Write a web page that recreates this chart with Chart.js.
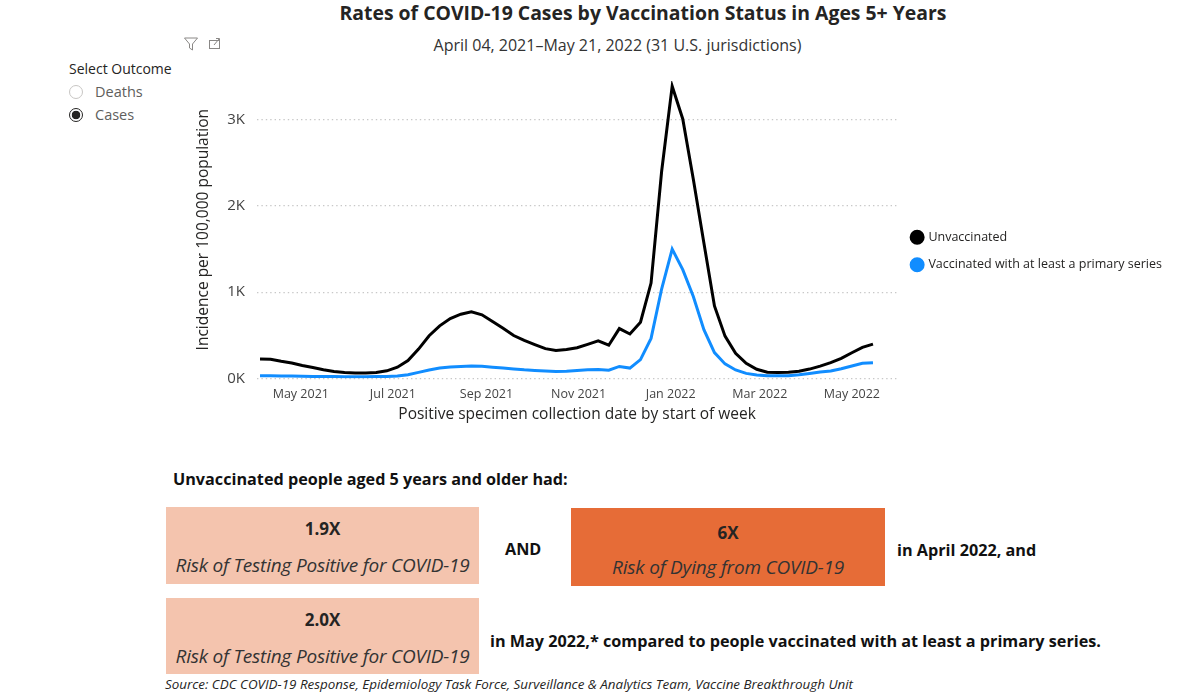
<!DOCTYPE html>
<html>
<head>
<meta charset="utf-8">
<script src="https://cdn.jsdelivr.net/npm/chart.js@4.4.1/dist/chart.umd.min.js"></script>
<style>
  body { margin: 0; width: 1200px; height: 698px; background: #fff; font-family: "Open Sans", sans-serif; color: #252423; position: relative; overflow: hidden; }
  .abs { position: absolute; white-space: nowrap; }
  #title { left: 0; width: 1286px; top: -1px; text-align: center; font-weight: 700; font-size: 19.4px; }
  #subtitle { left: 0; width: 1235px; top: 34px; text-align: center; font-size: 16px; color: #333; }
  #chartBox { left: 190px; top: 60px; width: 982px; height: 370px; }
  .radio { width: 14px; height: 14px; border-radius: 50%; border: 1px solid #c8c6c4; box-sizing: border-box; display: inline-block; }
  .radio.on { border: 1px solid #252423; background: radial-gradient(circle, #252423 0 4px, #fff 4.6px); }
  .box { background: #f4c4ae; text-align: center; }
  .box .big { font-weight: 700; font-size: 17px; position: absolute; left: 0; right: 0; color: #252423; }
  .box .lbl { font-style: italic; font-size: 19px; font-weight: 400; position: absolute; left: 0; right: 0; color: #333; letter-spacing: -0.2px; }
  .bold { font-weight: 700; font-size: 16.2px; color: #111; }
</style>
</head>
<body>
<div id="title" class="abs">Rates of COVID-19 Cases by Vaccination Status in Ages 5+ Years</div>
<div id="subtitle" class="abs">April 04, 2021–May 21, 2022 (31 U.S. jurisdictions)</div>

<svg class="abs" style="left:183px;top:36px" width="48" height="16" viewBox="0 0 48 16">
  <path d="M1.5 2 H14.5 L9.5 8 V14 L6.5 12 V8 Z" fill="none" stroke="#8a8886" stroke-width="1"/>
  <rect x="26.5" y="4.5" width="10" height="8" fill="none" stroke="#8a8886" stroke-width="1"/>
  <path d="M31 9 L36 3 M33 2.5 H36.5 V6" fill="none" stroke="#8a8886" stroke-width="1"/>
</svg>

<div class="abs" style="left:69px;top:59px;font-size:14px;">Select Outcome</div>
<div class="abs" style="left:69px;top:82px;font-size:14.5px;color:#605e5c;"><span class="radio" style="vertical-align:-2px;margin-right:12px"></span>Deaths</div>
<div class="abs" style="left:69px;top:105px;font-size:14.5px;color:#605e5c;"><span class="radio on" style="vertical-align:-2px;margin-right:12px"></span>Cases</div>

<div id="chartBox" class="abs"><canvas id="casesChart"></canvas></div>

<div class="abs bold" style="left:173px;top:468px;">Unvaccinated people aged 5 years and older had:</div>

<div class="abs box" style="left:166px;top:507px;width:313px;height:77px;">
  <div class="big" style="top:10px;">1.9X</div>
  <div class="lbl" style="top:45px;">Risk of Testing Positive for COVID-19</div>
</div>
<div class="abs bold" style="left:505px;top:538px;">AND</div>
<div class="abs box" style="left:571px;top:508px;width:314px;height:78px;background:#e66c37;">
  <div class="big" style="top:13px;">6X</div>
  <div class="lbl" style="top:46px;">Risk of Dying from COVID-19</div>
</div>
<div class="abs bold" style="left:897px;top:539px;">in April 2022, and</div>

<div class="abs box" style="left:166px;top:598px;width:313px;height:76px;">
  <div class="big" style="top:10px;">2.0X</div>
  <div class="lbl" style="top:45px;">Risk of Testing Positive for COVID-19</div>
</div>
<div class="abs bold" style="left:490px;top:630px;">in May 2022,* compared to people vaccinated with at least a primary series.</div>

<div class="abs" style="left:165px;top:675px;font-size:13.4px;font-style:italic;color:#252423;">Source: CDC COVID-19 Response, Epidemiology Task Force, Surveillance &amp; Analytics Team, Vaccine Breakthrough Unit</div>

<script>
  // week start dates (positive specimen collection date by start of week)
  var weeks = [
    "2021-04-04","2021-04-11","2021-04-18","2021-04-25",
    "2021-05-02","2021-05-09","2021-05-16","2021-05-23","2021-05-30",
    "2021-06-06","2021-06-13","2021-06-20","2021-06-27",
    "2021-07-04","2021-07-11","2021-07-18","2021-07-25",
    "2021-08-01","2021-08-08","2021-08-15","2021-08-22","2021-08-29",
    "2021-09-05","2021-09-12","2021-09-19","2021-09-26",
    "2021-10-03","2021-10-10","2021-10-17","2021-10-24","2021-10-31",
    "2021-11-07","2021-11-14","2021-11-21","2021-11-28",
    "2021-12-05","2021-12-12","2021-12-19","2021-12-26",
    "2022-01-02","2022-01-09","2022-01-16","2022-01-23","2022-01-30",
    "2022-02-06","2022-02-13","2022-02-20","2022-02-27",
    "2022-03-06","2022-03-13","2022-03-20","2022-03-27",
    "2022-04-03","2022-04-10","2022-04-17","2022-04-24",
    "2022-05-01","2022-05-08","2022-05-15"
  ];

  // incidence per 100,000 population
  var unvaccinated = [
    224, 222, 198, 178, 150, 126, 100, 80, 68, 63,
    62, 68, 88, 130, 208, 340, 495, 610, 695, 745,
    772, 738, 660, 582, 497, 440, 392, 345, 325, 335,
    355, 395, 435, 385, 578, 515, 652, 1106, 2400, 3390,
    3010, 2310, 1570, 840, 490, 292, 176, 106, 72, 68,
    72, 82, 108, 143, 182, 232, 298, 360, 398
  ];
  var vaccinated = [
    31, 31, 29, 27, 25, 23, 22, 21, 20, 20,
    20, 21, 22, 27, 43, 70, 97, 120, 131, 139,
    143, 140, 130, 120, 110, 100, 93, 86, 81, 84,
    92, 99, 104, 96, 139, 120, 218, 464, 1037, 1500,
    1262, 950, 565, 300, 168, 98, 58, 40, 32, 30,
    31, 42, 58, 73, 85, 112, 143, 175, 182
  ];

  var tickDates = ["2021-05-01","2021-07-01","2021-09-01","2021-11-01","2022-01-01","2022-03-01","2022-05-01"];
  var tickLabels = ["May 2021","Jul 2021","Sep 2021","Nov 2021","Jan 2022","Mar 2022","May 2022"];
  var yTicks = [0, 1000, 2000, 3000];
  var yTickLabels = ["0K","1K","2K","3K"];

  var seriesNames = ["Unvaccinated", "Vaccinated with at least a primary series"];
  var seriesColors = ["#000000", "#118dff"];

  var dayMs = 86400000;
  var start = Date.parse(weeks[0]);
  function dayOf(d) { return (Date.parse(d) - start) / dayMs; }

  function points(values) {
    var pts = [];
    for (var i = 0; i < weeks.length; i++) {
      pts.push({ x: dayOf(weeks[i]), y: values[i] });
    }
    return pts;
  }

  var tickDays = tickDates.map(dayOf);

  function drawChart() {
    var datasets = [unvaccinated, vaccinated].map(function (vals, i) {
      return {
        label: seriesNames[i],
        data: points(vals),
        borderColor: seriesColors[i],
        backgroundColor: seriesColors[i],
        borderWidth: 3,
        pointRadius: 0,
        tension: 0,
        fill: false
      };
    });

    Chart.defaults.font.family = "'Open Sans', sans-serif";
    Chart.defaults.color = "#252423";

    new Chart(document.getElementById("casesChart"), {
      type: "line",
      data: { datasets: datasets },
      options: {
        responsive: true,
        maintainAspectRatio: false,
        animation: false,
        layout: { padding: { top: 18, bottom: 6, left: 0, right: 0 } },
        plugins: {
          tooltip: { enabled: false },
          legend: {
            position: "right",
            align: "center",
            maxWidth: 320,
            labels: {
              usePointStyle: true,
              pointStyle: "circle",
              boxWidth: 10,
              boxHeight: 8.5,
              padding: 15,
              color: "#252423",
              font: { size: 12.5 }
            }
          }
        },
        scales: {
          x: {
            type: "linear",
            min: -2,
            max: 422,
            grid: { display: false },
            border: { display: false },
            afterBuildTicks: function (scale) {
              scale.ticks = tickDays.map(function (v) { return { value: v }; });
            },
            ticks: {
              autoSkip: false,
              maxRotation: 0,
              padding: 1,
              color: "#444",
              font: { size: 12.5 },
              callback: function (value) {
                var k = tickDays.indexOf(value);
                return k >= 0 ? tickLabels[k] : "";
              }
            },
            title: {
              display: true,
              text: "Positive specimen collection date by start of week",
              color: "#252423",
              font: { size: 15.5 },
              padding: { top: 2, bottom: 0 }
            }
          },
          y: {
            min: 0,
            max: 3450,
            afterFit: function (scale) { scale.width = 67; },
            afterBuildTicks: function (scale) {
              scale.ticks = yTicks.map(function (v) { return { value: v }; });
            },
            grid: {
              color: "#c8c8c8",
              lineWidth: 1.2,
              drawTicks: false
            },
            border: { display: false, dash: [1.4, 3] },
            ticks: {
              padding: 12,
              color: "#444",
              font: { size: 15 },
              callback: function (value) {
                var k = yTicks.indexOf(value);
                return k >= 0 ? yTickLabels[k] : "";
              }
            },
            title: {
              display: true,
              text: "Incidence per 100,000 population",
              color: "#252423",
              font: { size: 15.5 },
              padding: { top: 4, bottom: 0 }
            }
          }
        }
      }
    });
  }

  // make sure the canvas measures text with the real font
  if (document.fonts && document.fonts.load) {
    Promise.all([
      document.fonts.load("12.5px 'Open Sans'"),
      document.fonts.load("15px 'Open Sans'")
    ]).then(drawChart, drawChart);
  } else {
    drawChart();
  }
</script>
</body>
</html>
